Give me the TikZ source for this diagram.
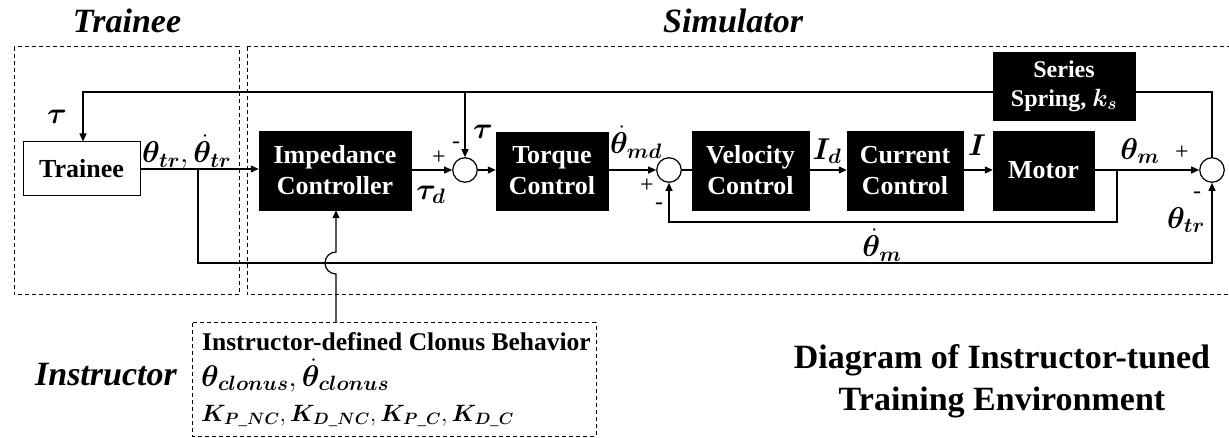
\documentclass[tikz,border=0pt]{standalone}
\usepackage{fontspec}
\setmainfont{Liberation Serif}
\usepackage{amsmath,bm}
\usetikzlibrary{arrows.meta}
\tikzset{
 blk/.style={draw=black, fill=black, text=white, font=\fontsize{26}{31}\selectfont\bfseries, align=center, inner sep=0pt},
 wbox/.style={draw=black, line width=1pt, fill=white, font=\fontsize{26}{31}\selectfont\bfseries, inner sep=0pt},
 sumc/.style={circle, draw=black, line width=1.2pt, minimum size=24.5pt, inner sep=0pt},
 conn/.style={line width=1.2pt},
 arr/.style={conn, -{Triangle[length=8pt,width=7pt]}},
 region/.style={dash pattern=on 4pt off 3pt, line width=1pt},
 lbl/.style={font=\fontsize{24}{26}\selectfont, inner sep=0pt, scale=1.21},
 sgn/.style={font=\fontsize{24}{24}\selectfont, inner sep=0pt},
 ttl/.style={font=\fontsize{34}{40}\selectfont\bfseries\itshape, inner sep=0pt, anchor=base},
 itxt/.style={font=\fontsize{25.5}{28}\selectfont\bfseries, inner sep=0pt, anchor=base west},
}
\begin{document}
\begin{tikzpicture}[x=1pt,y=-1pt]
\useasboundingbox (0,0) rectangle (1229,438);
% regions
\draw[region] (14,47) rectangle (239,295);
\draw[region] (247,47) rectangle (1240,295);
\draw[region] (192,323) rectangle (596,436);
% titles
\node[ttl] (tTrainee) at (127,33) {Trainee};
\node[ttl, anchor=base west] (tSim) at (663,33) {Simulator};
\node[ttl] (tInstr) at (106,385) {Instructor};
\node[font=\fontsize{34}{42}\selectfont\bfseries, align=center, inner sep=0pt] (tDiag) at (1002,381) {Diagram of Instructor-tuned\\Training Environment};
% blocks
\node[wbox, minimum width=117pt, minimum height=54pt] (trainee) at (81.5,169) {Trainee};
\node[blk, minimum width=152pt, minimum height=79pt] (imp) at (335,170.5) {Impedance\\Controller};
\node[blk, minimum width=112pt, minimum height=78pt] (torque) at (552,171) {Torque\\Control};
\node[blk, minimum width=117pt, minimum height=79pt] (vel) at (750.5,170.5) {Velocity\\Control};
\node[blk, minimum width=116pt, minimum height=79pt] (cur) at (905,170.5) {Current\\Control};
\node[blk, minimum width=101pt, minimum height=79pt] (motor) at (1043.5,170.5) {Motor};
\node[blk, minimum width=142pt, minimum height=68pt, font=\fontsize{24}{29}\selectfont\bfseries] (spring) at (1064,86) {Series\\Spring, $\boldsymbol{k_s}$};
% sums
\node[sumc] (s1) at (465,170) {};
\node[sumc] (s2) at (669,170) {};
\node[sumc] (s3) at (1212,170) {};
% coordinates
\coordinate (top) at (0,92);
\coordinate (tk) at (83,92);
\coordinate (tb) at (465,92);
\coordinate (sr) at (1212,92);
\coordinate (b1) at (198,169);
\coordinate (b1d) at (198,263);
\coordinate (b3) at (1212,263);
\coordinate (mb) at (1117,170);
\coordinate (mbd) at (1117,222);
\coordinate (s2d) at (669,222);
\coordinate (ib) at (336,323);
\coordinate (ibump) at (336,274);
% main path
\draw[arr] (trainee.east |- b1) -- (imp.west |- b1);
\draw[arr] (imp.east |- s1) -- (s1.west);
\draw[arr] (s1.east) -- (torque.west |- s1);
\draw[arr] (torque.east |- s2) -- (s2.west);
\draw[conn] (s2.east) -- (vel.west |- s2);
\draw[arr] (vel.east |- s2) -- (cur.west |- s2);
\draw[arr] (cur.east |- s2) -- (motor.west |- s2);
\draw[arr] (motor.east |- s3) -- (s3.west);
% feedbacks
\draw[arr] (mb) -- (mbd) -- (s2d) -- (s2.south);
\draw[arr] (b1) -- (b1d) -- (b3) -- (s3.south);
\draw[conn] (s3.north) -- (sr) -- (spring.east |- sr);
\draw[arr] (spring.west |- top) -- (tk) -- (tk |- trainee.north);
\draw[arr] (tb) -- (s1.north);
\draw[arr] (ib) -- (ibump) arc[start angle=270, end angle=90, radius=11pt] -- (imp.south -| ib);
% labels
\node[lbl] (lTau) at (57,117) {$\boldsymbol{\tau}$};
\node[lbl, anchor=west] (lThTr) at (142,152) {$\boldsymbol{\theta_{tr}},\boldsymbol{\dot{\theta}_{tr}}$};
\node[lbl] (lTauD) at (431,195) {$\boldsymbol{\tau_d}$};
\node[sgn] (p1) at (439,158) {+};
\node[sgn] (m1) at (456,145) {-};
\node[lbl] (lTau2) at (483,132) {$\boldsymbol{\tau}$};
\node[lbl] (lThMd) at (636,142) {$\boldsymbol{\dot{\theta}_{md}}$};
\node[sgn] (p2) at (647,186) {+};
\node[sgn] (m2) at (659,206) {-};
\node[lbl] (lId) at (827,151) {$\boldsymbol{I_d}$};
\node[lbl] (lI) at (977,145) {$\boldsymbol{I}$};
\node[lbl] (lThM) at (1140,151) {$\boldsymbol{\theta_m}$};
\node[sgn] (p3) at (1182,153) {+};
\node[sgn] (m3) at (1197,195) {-};
\node[lbl] (lThTr2) at (1186,220) {$\boldsymbol{\theta_{tr}}$};
\node[lbl] (lThDm) at (882,245) {$\boldsymbol{\dot{\theta}_m}$};
% instructor text
\node[itxt] (i1) at (202,351) {Instructor-defined Clonus Behavior};
\node[itxt, font=\fontsize{24}{26}\selectfont, scale=1.2] (i2) at (201,386) {$\boldsymbol{\theta_{clonus}},\boldsymbol{\dot{\theta}_{clonus}}$};
\node[itxt, font=\fontsize{21}{24}\selectfont, scale=1.14] (i3) at (201,421) {$\boldsymbol{K_{P\_NC}}, \boldsymbol{K_{D\_NC}},\boldsymbol{K_{P\_C}}, \boldsymbol{K_{D\_C}}$};
\end{tikzpicture}
\end{document}
